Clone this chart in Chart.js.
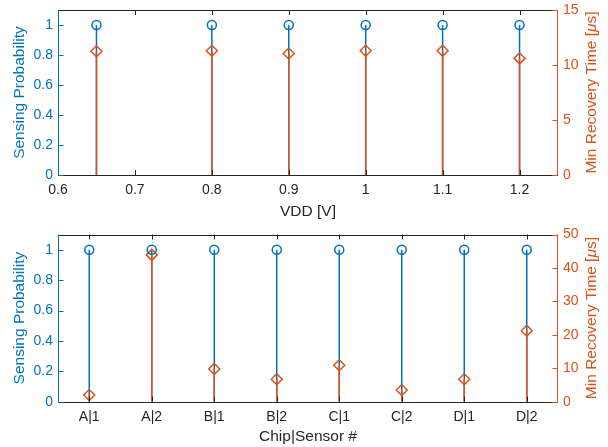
<!DOCTYPE html>
<html>
<head>
<meta charset="utf-8">
<script src="https://cdn.jsdelivr.net/npm/chart.js@4/dist/chart.umd.min.js"></script>
<style>
  body { margin: 0; background: #fff; }
  canvas { display: block; }
</style>
</head>
<body>
<canvas id="topChart" width="608" height="222"></canvas>
<canvas id="bottomChart" width="608" height="225"></canvas>
<script>
// top panel: sweep over supply voltage
const vdd = [0.65, 0.8, 0.9, 1, 1.1, 1.2];
const vddProb = [1, 1, 1, 1, 1, 1];
const vddRecovery = [11.25, 11.3, 11.05, 11.3, 11.3, 10.6];
const vddTicks = [0.6, 0.7, 0.8, 0.9, 1, 1.1, 1.2];
const vddRecTicks = [0, 5, 10, 15];

// bottom panel: chip|sensor
const sensors = ["A|1", "A|2", "B|1", "B|2", "C|1", "C|2", "D|1", "D|2"];
const sensorProb = [1, 1, 1, 1, 1, 1, 1, 1];
const sensorRecovery = [2.0, 43.9, 9.8, 6.7, 10.9, 3.5, 6.7, 21.2];
const sensorRecTicks = [0, 10, 20, 30, 40, 50];

const probTicks = [0, 0.2, 0.4, 0.6, 0.8, 1];

const BLUE = "#0072BD";
const ORANGE = "#D95319";
const DARK = "#262626";
const FONT = "'Liberation Sans', Arial, sans-serif";

Chart.defaults.font.family = FONT;

// vertical stem from 0 to each value, broken with a null point
function stems(xs, ys) {
  const pts = [];
  xs.forEach((x, i) => {
    pts.push({ x: x, y: 0 }, { x: x, y: ys[i] }, { x: x, y: null });
  });
  return pts;
}

function points(xs, ys) {
  return xs.map((x, i) => ({ x: x, y: ys[i] }));
}

function noPad(s) {
  s.paddingTop = 0;
  s.paddingBottom = 0;
}

// MATLAB style box with inward ticks, plus the right axis title (reads bottom to top)
const frame = {
  id: "frame",
  afterDraw(chart) {
    const { ctx, chartArea: a, scales } = chart;
    const t = 5;
    ctx.save();
    ctx.lineWidth = 1;

    ctx.strokeStyle = DARK;
    scales.x.ticks.forEach((tk, i) => {
      const px = Math.round(scales.x.getPixelForTick(i)) + 0.5;
      ctx.beginPath();
      ctx.moveTo(px, a.bottom);
      ctx.lineTo(px, a.bottom - t);
      ctx.moveTo(px, a.top);
      ctx.lineTo(px, a.top + t);
      ctx.stroke();
    });
    ctx.beginPath();
    ctx.moveTo(a.left, Math.round(a.top) + 0.5);
    ctx.lineTo(a.right, Math.round(a.top) + 0.5);
    ctx.moveTo(a.left, Math.round(a.bottom) + 0.5);
    ctx.lineTo(a.right, Math.round(a.bottom) + 0.5);
    ctx.stroke();

    ctx.strokeStyle = BLUE;
    const lx = Math.round(a.left) + 0.5;
    ctx.beginPath();
    ctx.moveTo(lx, a.top);
    ctx.lineTo(lx, a.bottom);
    scales.y.ticks.forEach((tk, i) => {
      const py = Math.round(scales.y.getPixelForTick(i)) + 0.5;
      ctx.moveTo(lx, py);
      ctx.lineTo(lx + t, py);
    });
    ctx.stroke();

    ctx.strokeStyle = ORANGE;
    const rx = Math.round(a.right) - 0.5;
    ctx.beginPath();
    ctx.moveTo(rx, a.top);
    ctx.lineTo(rx, a.bottom);
    scales.y1.ticks.forEach((tk, i) => {
      const py = Math.round(scales.y1.getPixelForTick(i)) + 0.5;
      ctx.moveTo(rx, py);
      ctx.lineTo(rx - t, py);
    });
    ctx.stroke();

    // right title
    const parts = [
      ["Min Recovery Time [", "15.5px " + FONT],
      ["\u03bc", "italic 15.5px " + FONT],
      ["s]", "15.5px " + FONT],
    ];
    let total = 0;
    parts.forEach((p) => { ctx.font = p[1]; total += ctx.measureText(p[0]).width; });
    ctx.translate(592, (a.top + a.bottom) / 2);
    ctx.rotate(-Math.PI / 2);
    ctx.fillStyle = ORANGE;
    ctx.textBaseline = "middle";
    ctx.textAlign = "left";
    let x = -total / 2;
    parts.forEach((p) => {
      ctx.font = p[1];
      ctx.fillText(p[0], x, 0);
      x += ctx.measureText(p[0]).width;
    });
    ctx.restore();
  }
};

function makePanel(id, xScale, xs, prob, rec, recMax, recTicks, padTop, xHeight) {
  const ctx = document.getElementById(id).getContext("2d");
  return new Chart(ctx, {
    type: "line",
    data: {
      datasets: [
        {
          data: points(xs, prob),
          showLine: false,
          pointStyle: "circle",
          pointRadius: 4.5,
          pointBorderWidth: 1.5,
          pointBorderColor: BLUE,
          pointBackgroundColor: "rgba(0,0,0,0)",
          yAxisID: "y",
          order: 0,
        },
        {
          data: points(xs, rec),
          showLine: false,
          pointStyle: "rectRot",
          pointRadius: 5.5,
          pointBorderWidth: 1.5,
          pointBorderColor: ORANGE,
          pointBackgroundColor: "rgba(0,0,0,0)",
          yAxisID: "y1",
          order: 1,
        },
        {
          data: stems(xs, rec),
          borderColor: ORANGE,
          borderWidth: 1.5,
          pointRadius: 0,
          spanGaps: false,
          yAxisID: "y1",
          order: 2,
        },
        {
          data: stems(xs, prob),
          borderColor: BLUE,
          borderWidth: 1.5,
          pointRadius: 0,
          spanGaps: false,
          yAxisID: "y",
          order: 3,
        },
      ],
    },
    options: {
      responsive: false,
      animation: false,
      layout: { padding: { top: padTop, left: 0, right: 0, bottom: 0 } },
      plugins: {
        legend: { display: false },
        tooltip: { enabled: false },
      },
      scales: {
        x: Object.assign(xScale, {
          afterFit: (s) => { s.height = xHeight; },
        }),
        y: {
          position: "left",
          min: 0,
          max: 1.1,
          afterBuildTicks: (s) => { s.ticks = probTicks.map((v) => ({ value: v })); },
          afterFit: (s) => { s.width = 58; noPad(s); },
          grid: { display: false, drawTicks: false },
          border: { display: false },
          ticks: {
            color: BLUE,
            font: { size: 14 },
            padding: 5,
            callback: (v) => String(+v.toFixed(2)),
          },
          title: {
            display: true,
            text: "Sensing Probability",
            color: BLUE,
            font: { size: 15.5 },
            padding: { top: 10.7, bottom: 0 },
          },
        },
        y1: {
          position: "right",
          min: 0,
          max: recMax,
          afterBuildTicks: (s) => { s.ticks = recTicks.map((v) => ({ value: v })); },
          afterFit: (s) => { s.width = 50; noPad(s); },
          grid: { display: false, drawTicks: false },
          border: { display: false },
          ticks: {
            color: ORANGE,
            font: { size: 14 },
            padding: 5,
          },
          title: { display: false },
        },
      },
    },
    plugins: [frame],
  });
}

const xTickStyle = { color: DARK, font: { size: 14 }, padding: 7, maxRotation: 0 };

var topChart = makePanel(
  "topChart",
  {
    type: "linear",
    min: 0.6,
    max: 1.25,
    afterBuildTicks: (s) => { s.ticks = vddTicks.map((v) => ({ value: v })); },
    grid: { display: false, drawTicks: false },
    border: { display: false },
    ticks: Object.assign({}, xTickStyle, { callback: (v) => String(+v.toFixed(2)) }),
    title: { display: true, text: "VDD [V]", color: DARK, font: { size: 15.5 }, padding: { top: 0, bottom: 0.7 } },
  },
  vdd, vddProb, vddRecovery, 15, vddRecTicks, 10, 47
);

var bottomChart = makePanel(
  "bottomChart",
  {
    type: "category",
    labels: sensors,
    offset: true,
    grid: { display: false, drawTicks: false, offset: true },
    border: { display: false },
    ticks: xTickStyle,
    title: { display: true, text: "Chip|Sensor #", color: DARK, font: { size: 15.5 }, padding: { top: 0, bottom: 0.7 } },
  },
  sensors, sensorProb, sensorRecovery, 50, sensorRecTicks, 12.5, 45.3
);
</script>
</body>
</html>
